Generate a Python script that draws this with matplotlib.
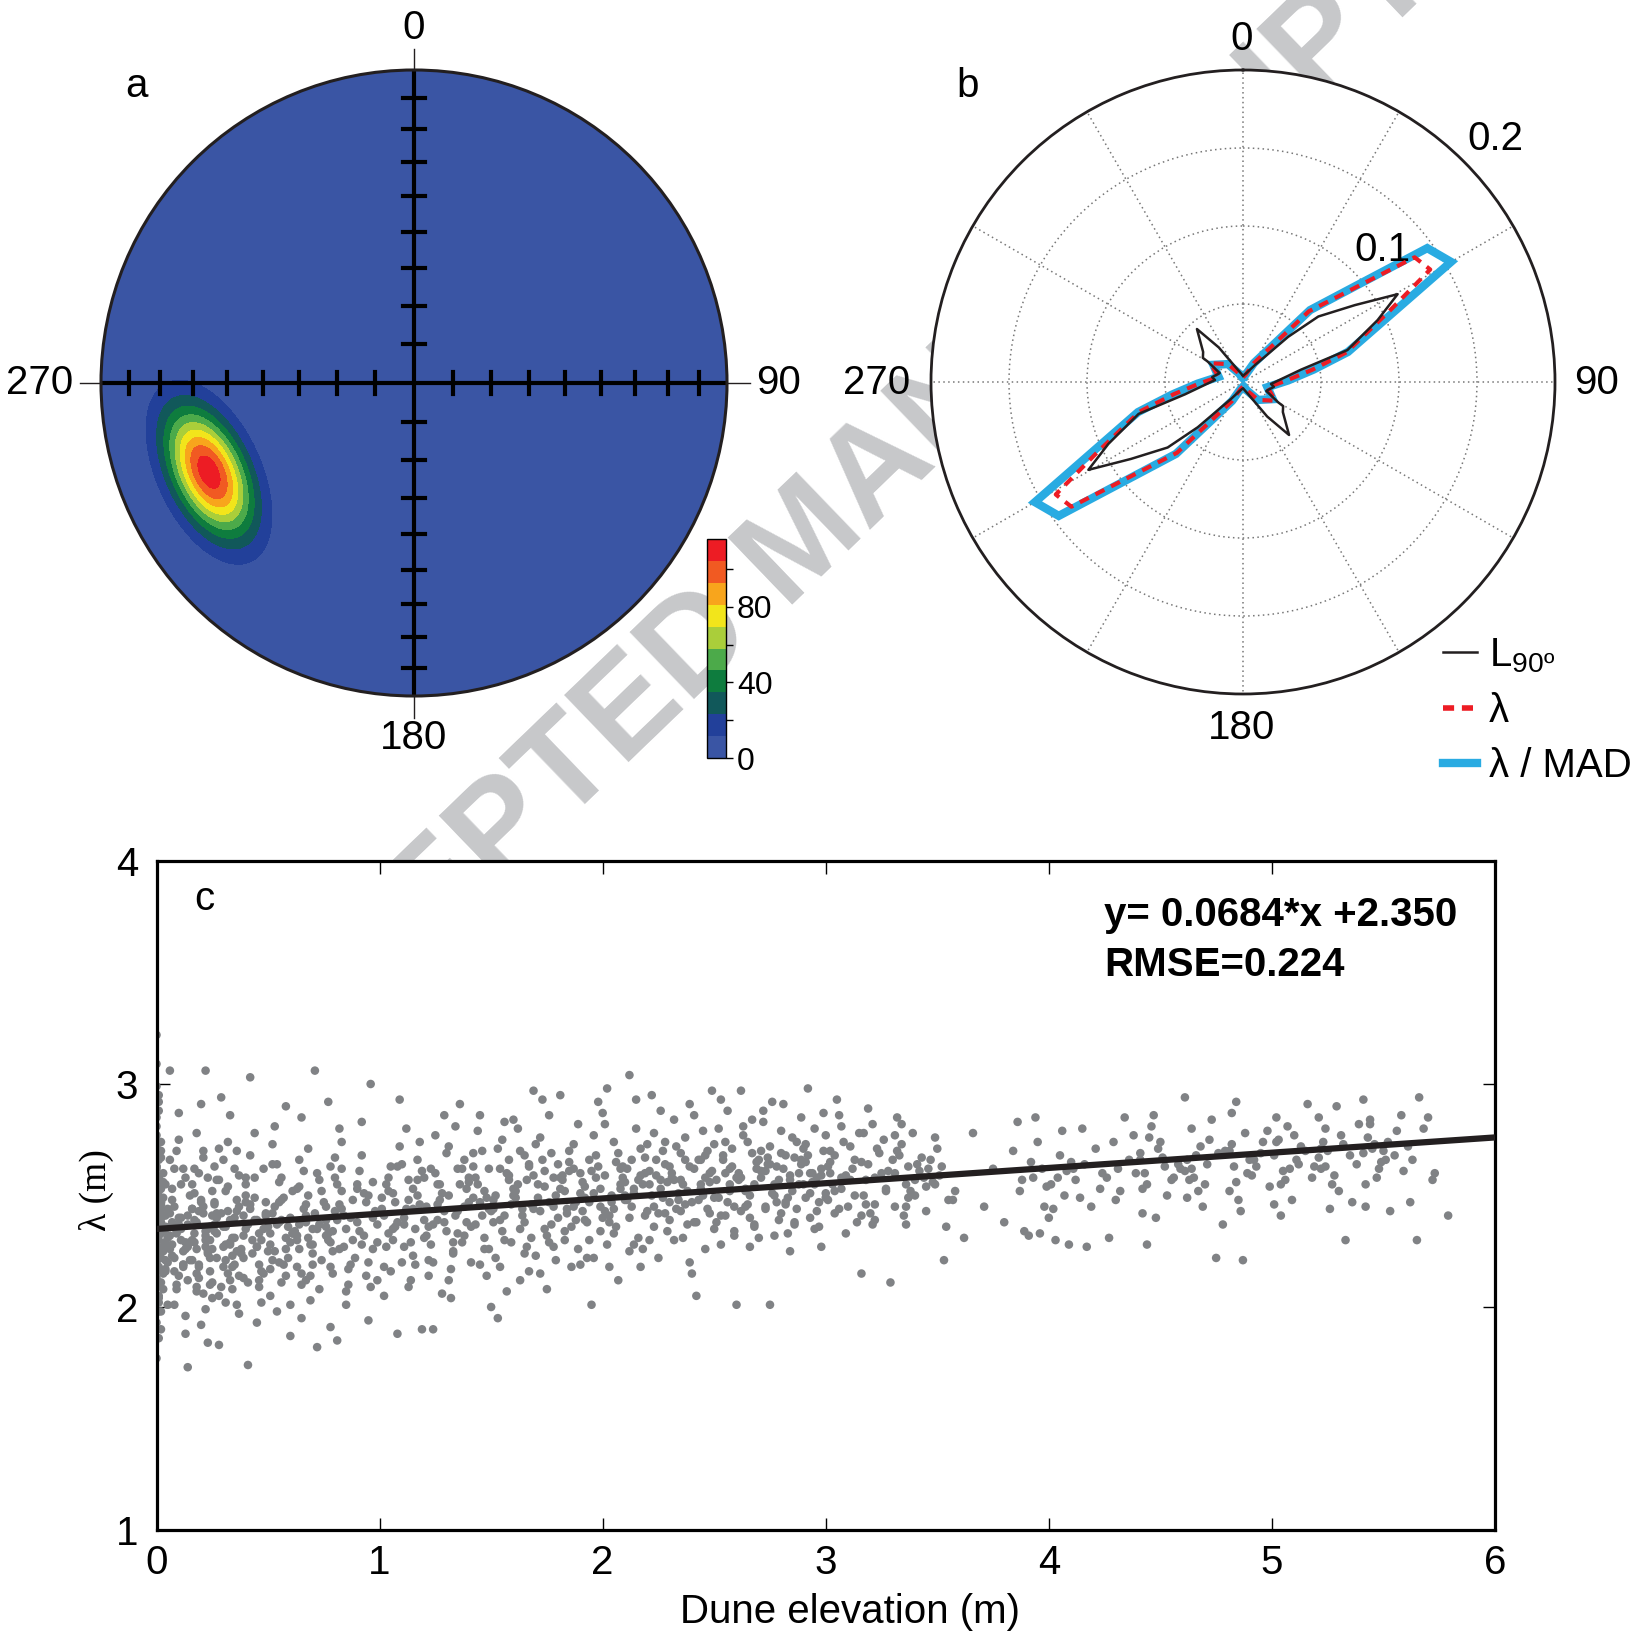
import numpy as np
import matplotlib.pyplot as plt
from matplotlib.patches import Circle
from matplotlib.lines import Line2D

plt.rcParams['font.family'] = ['Liberation Sans', 'DejaVu Sans']
plt.rcParams['mathtext.default'] = 'regular'

# ---------------- panel a: pole density on an equal-area net ----------------
blob_center = (-0.655, -0.285)   # projected position of the maximum
blob_sigma = (0.148, 0.078)      # spread along / across the long axis
blob_tilt = 25                   # long axis, degrees from vertical (top to the west)
blob_peak = 112
density_levels = [0, 11.6, 23.2, 34.8, 46.4, 58.0, 69.6, 81.2, 92.8, 104.4, 116]
density_colors = ['#3a55a4', '#22409a', '#11585a', '#0e7c3e', '#4caa4a',
                  '#aace3a', '#f2e51b', '#f8a51c', '#f15a22', '#ed1c24']
cbar_ticks = [0, 20, 40, 60, 80, 100]
cbar_labels = ['0', '', '40', '', '80', '']
net_dips = [10, 20, 30, 40, 50, 60, 70, 80]

# ---------------- panel b: directional curves (axial, 0-180 half) ----------------
l90_bearing = [0, 20, 35, 45, 49, 55.5, 60.4, 65.3, 73, 78, 94, 99, 111, 120, 121, 127, 139, 145, 150, 165]
l90_r = [0.004, 0.006, 0.013, 0.041, 0.064, 0.087, 0.114, 0.095, 0.070, 0.038,
         0.018, 0.020, 0.016, 0.026, 0.030, 0.032, 0.045, 0.027, 0.014, 0.006]
lam_bearing = [0, 20, 30, 43, 54, 59, 64, 74, 80, 88, 102, 120, 140, 155, 170]
lam_r = [0.003, 0.005, 0.014, 0.062, 0.136, 0.140, 0.105, 0.069, 0.045, 0.028, 0.016, 0.024, 0.015, 0.006, 0.003]
mad_bearing = [0, 20, 30, 43, 54, 60, 65, 74, 80, 88, 102, 120, 140, 155, 170]
mad_r = [0.003, 0.005, 0.014, 0.063, 0.146, 0.154, 0.107, 0.070, 0.046, 0.029, 0.016, 0.022, 0.015, 0.006, 0.003]

# ---------------- panel c: wavelength vs dune elevation ----------------
elev = [
    0.00, 0.01, 0.00, 0.02, 0.01, 0.00, 0.03, 0.01, 0.02, 0.00,
    0.01, 0.02, 0.00, 0.01, 0.03, 0.00, 0.02, 0.01, 0.04, 0.00,
    0.02, 0.00, 0.01, 0.03, 0.00, 0.02, 0.01, 0.04, 0.00, 0.03,
    0.00, 0.01, 0.02, 0.00, 0.04, 0.01, 0.03, 0.00, 0.02, 0.01,
    0.03, 0.00, 0.02, 0.01, 0.00, 0.04, 0.02, 0.00, 0.01, 0.03,
    0.01, 0.03, 0.00, 0.02, 0.01, 0.00, 0.04, 0.02, 0.00, 0.01,
    0.00, 0.02, 0.01, 0.04, 0.00, 0.03, 0.01, 0.02, 0.00, 0.04,
    0.05, 0.07, 0.09, 0.11, 0.06, 0.13, 0.08, 0.14, 0.10, 0.12,
    0.06, 0.10, 0.13, 0.08, 0.15, 0.05, 0.12, 0.09, 0.14, 0.07,
    0.08, 0.05, 0.11, 0.14, 0.07, 0.10, 0.06, 0.13, 0.09, 0.12,
    0.12, 0.09, 0.06, 0.10, 0.13, 0.07, 0.15, 0.08, 0.11, 0.05,
    0.16, 0.18, 0.21, 0.23, 0.17, 0.20, 0.24, 0.19, 0.22, 0.25,
    0.19, 0.16, 0.22, 0.18, 0.25, 0.21, 0.17, 0.24, 0.20, 0.23,
    0.21, 0.24, 0.17, 0.20, 0.16, 0.23, 0.19, 0.22, 0.18, 0.25,
    0.23, 0.20, 0.25, 0.17, 0.22, 0.18, 0.21, 0.16, 0.24, 0.19,
    0.26, 0.29, 0.31, 0.34, 0.27, 0.36, 0.30, 0.33, 0.28, 0.37,
    0.30, 0.27, 0.35, 0.32, 0.38, 0.26, 0.33, 0.29, 0.36, 0.31,
    0.33, 0.36, 0.28, 0.31, 0.26, 0.35, 0.29, 0.37, 0.32, 0.34,
    0.35, 0.32, 0.27, 0.37, 0.30, 0.28, 0.34, 0.26, 0.38, 0.33,
    0.39, 0.41, 0.44, 0.47, 0.40, 0.43, 0.49, 0.42, 0.46, 0.48,
    0.42, 0.45, 0.39, 0.48, 0.41, 0.47, 0.44, 0.50, 0.40, 0.46,
    0.46, 0.40, 0.43, 0.49, 0.45, 0.39, 0.48, 0.42, 0.50, 0.44,
    0.51, 0.53, 0.56, 0.59, 0.52, 0.55, 0.61, 0.54, 0.58, 0.60,
    0.54, 0.57, 0.52, 0.60, 0.55, 0.51, 0.58, 0.62, 0.53, 0.56,
    0.58, 0.52, 0.61, 0.55, 0.59, 0.53, 0.56, 0.51, 0.60, 0.57,
    0.63, 0.65, 0.68, 0.71, 0.64, 0.67, 0.73, 0.66, 0.70, 0.74,
    0.66, 0.69, 0.64, 0.72, 0.67, 0.63, 0.70, 0.75, 0.65, 0.68,
    0.70, 0.64, 0.73, 0.67, 0.71, 0.65, 0.68, 0.63, 0.72, 0.69,
    0.76, 0.78, 0.81, 0.84, 0.77, 0.80, 0.86, 0.79, 0.83, 0.88,
    0.79, 0.82, 0.77, 0.85, 0.80, 0.76, 0.83, 0.89, 0.78, 0.87,
    0.83, 0.77, 0.86, 0.80, 0.84, 0.78, 0.81, 0.76, 0.85, 0.82,
    0.91, 0.93, 0.95, 0.98, 0.92, 0.96, 0.99, 0.94, 0.97, 0.90,
    0.94, 0.97, 0.92, 0.99, 0.95, 0.91, 0.98, 0.93, 0.96, 0.90,
    1.01, 1.03, 1.05, 1.08, 1.02, 1.06, 1.09, 1.04, 1.07, 1.10,
    1.04, 1.07, 1.02, 1.09, 1.05, 1.01, 1.08, 1.03, 1.06, 1.10,
    1.11, 1.13, 1.15, 1.18, 1.12, 1.16, 1.19, 1.14, 1.17, 1.20,
    1.14, 1.17, 1.12, 1.19, 1.15, 1.11, 1.18, 1.13, 1.16, 1.20,
    1.21, 1.23, 1.25, 1.28, 1.22, 1.26, 1.29, 1.24, 1.27, 1.30,
    1.24, 1.27, 1.22, 1.29, 1.25, 1.21, 1.28, 1.23, 1.26, 1.30,
    1.31, 1.33, 1.35, 1.38, 1.32, 1.36, 1.39, 1.34, 1.37, 1.40,
    1.34, 1.37, 1.32, 1.39, 1.35, 1.31, 1.38, 1.33, 1.36, 1.40,
    1.41, 1.43, 1.45, 1.48, 1.42, 1.46, 1.49, 1.44, 1.47, 1.50,
    1.44, 1.47, 1.42, 1.49, 1.45, 1.41, 1.48, 1.43, 1.46, 1.50,
    1.51, 1.53, 1.55, 1.58, 1.52, 1.56, 1.59, 1.54, 1.57, 1.60,
    1.54, 1.57, 1.52, 1.59, 1.55, 1.51, 1.58, 1.53, 1.56, 1.60,
    1.61, 1.63, 1.65, 1.68, 1.62, 1.66, 1.69, 1.64, 1.67, 1.70,
    1.64, 1.67, 1.62, 1.69, 1.65, 1.61, 1.68, 1.63, 1.66, 1.70,
    1.71, 1.73, 1.75, 1.78, 1.72, 1.76, 1.79, 1.74, 1.77, 1.80,
    1.74, 1.77, 1.72, 1.79, 1.75, 1.71, 1.78, 1.73, 1.76, 1.80,
    1.81, 1.83, 1.85, 1.88, 1.82, 1.86, 1.89, 1.84, 1.87, 1.90,
    1.84, 1.87, 1.82, 1.89, 1.85, 1.81, 1.88, 1.83, 1.86, 1.90,
    1.91, 1.93, 1.95, 1.98, 1.92, 1.96, 1.99, 1.94, 1.97, 2.00,
    1.94, 1.97, 1.92, 1.99, 1.95, 1.91, 1.98, 1.93, 1.96, 2.00,
    2.01, 2.03, 2.05, 2.08, 2.02, 2.06, 2.09, 2.04, 2.07, 2.10,
    2.04, 2.07, 2.02, 2.09, 2.05, 2.01, 2.08, 2.03, 2.06, 2.10,
    2.11, 2.13, 2.15, 2.18, 2.12, 2.16, 2.19, 2.14, 2.17, 2.20,
    2.14, 2.17, 2.12, 2.19, 2.15, 2.11, 2.18, 2.13, 2.16, 2.20,
    2.21, 2.23, 2.25, 2.28, 2.22, 2.26, 2.29, 2.24, 2.27, 2.30,
    2.24, 2.27, 2.22, 2.29, 2.25, 2.21, 2.28, 2.23, 2.26, 2.30,
    2.31, 2.33, 2.35, 2.38, 2.32, 2.36, 2.39, 2.34, 2.37, 2.40,
    2.34, 2.37, 2.32, 2.39, 2.35, 2.31, 2.38, 2.33, 2.36, 2.40,
    2.41, 2.43, 2.45, 2.48, 2.42, 2.46, 2.49, 2.44, 2.47, 2.50,
    2.44, 2.47, 2.42, 2.49, 2.45, 2.41, 2.48, 2.43, 2.46, 2.50,
    2.51, 2.53, 2.55, 2.58, 2.52, 2.56, 2.59, 2.54, 2.57, 2.60,
    2.54, 2.57, 2.52, 2.59, 2.55, 2.51, 2.58, 2.53, 2.56, 2.60,
    2.61, 2.63, 2.65, 2.68, 2.62, 2.66, 2.69, 2.64, 2.67, 2.70,
    2.64, 2.67, 2.62, 2.69, 2.65, 2.61, 2.68, 2.63, 2.66, 2.70,
    2.71, 2.73, 2.75, 2.78, 2.72, 2.76, 2.79, 2.74, 2.77, 2.80,
    2.74, 2.77, 2.72, 2.79, 2.75, 2.71, 2.78, 2.73, 2.76, 2.80,
    2.81, 2.83, 2.85, 2.88, 2.82, 2.86, 2.89, 2.84, 2.87, 2.90,
    2.84, 2.87, 2.82, 2.89, 2.85, 2.81, 2.88, 2.83, 2.86, 2.90,
    2.91, 2.93, 2.95, 2.98, 2.92, 2.96, 2.99, 2.94, 2.97, 3.00,
    2.94, 2.97, 2.92, 2.99, 2.95, 2.91, 2.98, 2.93, 2.96, 3.00,
    3.01, 3.04, 3.07, 3.11, 3.02, 3.06, 3.13, 3.05, 3.09, 3.14,
    3.03, 3.08, 3.01, 3.12, 3.06, 3.02, 3.10, 3.04, 3.07, 3.15,
    3.16, 3.19, 3.22, 3.26, 3.17, 3.21, 3.28, 3.20, 3.24, 3.29,
    3.18, 3.23, 3.16, 3.27, 3.21, 3.17, 3.25, 3.19, 3.22, 3.30,
    3.31, 3.34, 3.37, 3.41, 3.32, 3.36, 3.43, 3.35, 3.39, 3.44,
    3.33, 3.38, 3.31, 3.42, 3.36, 3.32, 3.40, 3.34, 3.37, 3.45,
    3.46, 3.48, 3.50, 3.53, 3.47, 3.51, 3.55, 3.49, 3.52, 3.58,
    3.62, 3.66, 3.71, 3.75, 3.80, 3.84, 3.87, 3.89, 3.86, 3.88,
    3.91, 3.93, 3.95, 3.98, 3.92, 3.96, 3.99, 3.94, 3.97, 4.00,
    4.01, 4.03, 4.05, 4.08, 4.02, 4.06, 4.09, 4.04, 4.07, 4.10,
    4.11, 4.14, 4.17, 4.21, 4.12, 4.16, 4.23, 4.15, 4.19, 4.24,
    4.26, 4.29, 4.32, 4.36, 4.27, 4.31, 4.38, 4.30, 4.34, 4.39,
    4.41, 4.44, 4.47, 4.52, 4.42, 4.49, 4.56, 4.45, 4.53, 4.58,
    4.43, 4.48, 4.41, 4.55, 4.46, 4.42, 4.51, 4.44, 4.50, 4.59,
    4.61, 4.64, 4.67, 4.72, 4.62, 4.69, 4.76, 4.65, 4.73, 4.78,
    4.63, 4.68, 4.61, 4.75, 4.66, 4.62, 4.71, 4.64, 4.70, 4.79,
    4.81, 4.84, 4.87, 4.92, 4.82, 4.89, 4.96, 4.85, 4.93, 4.98,
    4.83, 4.88, 4.81, 4.95, 4.86, 4.82, 4.91, 4.84, 4.90, 4.99,
    5.01, 5.04, 5.07, 5.12, 5.02, 5.09, 5.16, 5.05, 5.13, 5.18,
    5.03, 5.08, 5.01, 5.15, 5.06, 5.02, 5.11, 5.04, 5.10, 5.19,
    5.21, 5.24, 5.27, 5.32, 5.22, 5.29, 5.36, 5.25, 5.33, 5.38,
    5.23, 5.28, 5.21, 5.35, 5.26, 5.22, 5.31, 5.24, 5.30, 5.39,
    5.41, 5.44, 5.47, 5.52, 5.42, 5.49, 5.56, 5.45, 5.53, 5.58,
    5.43, 5.48, 5.41, 5.55, 5.46, 5.42, 5.51, 5.44, 5.50, 5.59,
    5.61, 5.63, 5.65, 5.68, 5.72, 5.66, 5.73, 5.62, 5.70, 5.79,
    0.02, 0.06, 0.11, 0.15, 0.19, 0.24, 0.28, 0.33, 0.37, 0.42,
    0.04, 0.08, 0.13, 0.17, 0.22, 0.26, 0.31, 0.35, 0.40, 0.45,
    0.01, 0.05, 0.10, 0.14, 0.18, 0.23, 0.27, 0.32, 0.36, 0.41,
    0.03, 0.07, 0.12, 0.16, 0.21, 0.25, 0.30, 0.34, 0.39, 0.44,
    0.47, 0.52, 0.56, 0.61, 0.65, 0.70, 0.74, 0.79, 0.83, 0.88,
    0.49, 0.54, 0.58, 0.63, 0.67, 0.72, 0.76, 0.81, 0.85, 0.90,
    0.46, 0.51, 0.55, 0.60, 0.64, 0.69, 0.73, 0.78, 0.82, 0.87,
    0.92, 0.97, 1.02, 1.06, 1.11, 1.15, 1.20, 1.24, 1.29, 1.33,
    0.95, 0.99, 1.04, 1.08, 1.13, 1.17, 1.22, 1.26, 1.31, 1.35,
    1.38, 1.42, 1.47, 1.51, 1.56, 1.60, 1.65, 1.69, 1.74, 1.78,
    1.40, 1.45, 1.49, 1.54, 1.58, 1.63, 1.67, 1.72, 1.76, 1.81,
    1.83, 1.87, 1.92, 1.96, 2.01, 2.05, 2.10, 2.14, 2.19, 2.23,
    1.85, 1.90, 1.94, 1.99, 2.03, 2.08, 2.12, 2.17, 2.21, 2.26,
    2.28, 2.32, 2.37, 2.41, 2.46, 2.50, 2.55, 2.59, 2.64, 2.68,
    2.30, 2.35, 2.39, 2.44, 2.48, 2.53, 2.57, 2.62, 2.66, 2.71,
    2.73, 2.77, 2.82, 2.86, 2.91, 2.95, 3.00, 3.04, 3.09, 3.13,
    2.75, 2.80, 2.84, 2.89, 2.93, 2.98, 3.02, 3.07, 3.11, 3.16,
    3.18, 3.22, 3.27, 3.31, 3.36, 3.40, 3.45, 3.49, 3.54, 3.57,
    0.00, 0.01, 0.02, 0.00, 0.03, 0.01, 0.00, 0.02, 0.04, 0.01,
    0.06, 0.09, 0.14, 0.18, 0.22, 0.27, 0.31, 0.36, 0.40, 0.45,
]
lam = [
    2.31, 2.05, 2.62, 2.22, 2.88, 1.93, 2.41, 2.17, 2.53, 3.22,
    2.26, 2.70, 2.12, 2.45, 2.34, 3.09, 1.98, 2.58, 2.29, 2.19,
    2.38, 2.77, 1.86, 2.49, 2.24, 2.11, 2.95, 2.36, 2.63, 2.27,
    2.20, 2.52, 2.33, 1.77, 2.41, 2.66, 2.08, 2.85, 2.44, 2.30,
    2.15, 2.35, 2.74, 2.02, 2.56, 2.28, 2.47, 2.99, 2.39, 2.60,
    2.43, 2.25, 2.13, 2.67, 2.32, 2.81, 2.21, 1.90, 2.50, 2.37,
    2.29, 2.40, 2.58, 2.16, 2.72, 2.34, 2.04, 2.46, 2.24, 2.55,
    2.27, 2.48, 2.10, 2.35, 2.66, 1.96, 2.22, 2.41, 2.87, 2.18,
    2.32, 2.14, 2.58, 2.01, 2.29, 2.44, 2.25, 2.70, 1.73, 2.38,
    2.45, 2.20, 2.30, 2.12, 2.53, 2.37, 3.06, 2.26, 2.08, 2.62,
    2.19, 2.34, 2.42, 2.75, 1.88, 2.28, 2.50, 2.16, 2.40, 2.31,
    2.30, 2.07, 2.45, 2.24, 2.62, 1.92, 2.36, 2.19, 3.06, 2.41,
    2.13, 2.55, 2.27, 2.38, 2.04, 2.70, 2.33, 2.22, 2.48, 1.84,
    2.42, 2.16, 2.29, 2.91, 2.21, 2.35, 2.60, 1.99, 2.26, 2.52,
    2.25, 2.47, 2.11, 2.39, 2.32, 2.78, 2.06, 2.44, 2.30, 2.18,
    2.34, 2.09, 2.52, 2.23, 2.40, 2.01, 2.66, 2.29, 1.83, 2.45,
    2.18, 2.57, 2.31, 2.74, 2.26, 2.37, 2.12, 2.94, 2.43, 2.21,
    2.28, 2.48, 2.05, 2.36, 2.63, 2.19, 2.42, 1.97, 2.54, 2.31,
    2.40, 2.15, 2.33, 2.59, 2.27, 2.71, 2.08, 2.46, 2.24, 2.86,
    2.22, 1.74, 2.39, 2.16, 2.55, 2.30, 2.47, 3.03, 2.09, 2.35,
    2.44, 2.27, 2.13, 2.62, 2.37, 2.02, 2.78, 2.25, 2.50, 2.19,
    2.33, 2.58, 2.24, 2.41, 1.93, 2.32, 2.15, 2.68, 2.36, 2.49,
    2.28, 2.45, 2.11, 2.36, 2.64, 2.20, 2.52, 1.98, 2.31, 2.40,
    2.37, 2.19, 2.73, 2.29, 2.47, 2.05, 2.90, 2.34, 2.25, 2.58,
    2.14, 2.42, 2.33, 2.56, 2.22, 2.81, 2.39, 2.17, 1.87, 2.49,
    2.32, 2.15, 2.50, 3.06, 2.26, 2.41, 2.08, 2.61, 2.35, 2.21,
    2.44, 2.28, 2.66, 1.82, 2.38, 2.53, 2.19, 2.47, 2.85, 2.31,
    2.24, 2.37, 2.57, 2.12, 2.42, 1.95, 2.71, 2.30, 2.35, 2.03,
    2.39, 2.18, 2.55, 2.27, 2.92, 2.43, 2.10, 2.34, 2.62, 2.48,
    2.25, 2.46, 2.33, 2.01, 2.58, 2.36, 2.74, 2.22, 1.91, 2.40,
    2.52, 2.30, 2.17, 2.67, 2.41, 2.29, 1.85, 2.45, 2.35, 2.80,
    2.34, 2.51, 2.20, 2.42, 2.68, 3.00, 2.29, 2.14, 2.56, 2.38,
    2.47, 2.26, 2.83, 2.37, 1.94, 2.61, 2.43, 2.32, 2.09, 2.53,
    2.44, 2.27, 2.63, 2.38, 2.05, 2.51, 2.93, 2.33, 2.47, 2.20,
    2.58, 2.36, 2.41, 2.72, 2.16, 2.49, 1.88, 2.55, 2.30, 2.64,
    2.40, 2.57, 2.23, 2.46, 2.80, 2.35, 2.61, 2.12, 2.50, 2.39,
    2.29, 2.66, 2.44, 1.90, 2.53, 2.37, 2.74, 2.48, 2.19, 2.58,
    2.45, 2.28, 2.60, 2.51, 2.14, 2.39, 2.86, 1.90, 2.48, 2.69,
    2.37, 2.55, 2.21, 2.43, 2.77, 2.32, 2.06, 2.62, 2.46, 2.34,
    2.50, 2.25, 2.43, 2.66, 2.04, 2.55, 2.38, 2.81, 2.29, 2.47,
    2.41, 2.62, 2.17, 2.53, 2.33, 2.72, 2.45, 2.24, 2.91, 2.58,
    2.36, 2.58, 2.47, 2.14, 2.69, 2.41, 2.26, 2.79, 2.52, 2.00,
    2.55, 2.31, 2.63, 2.44, 2.86, 2.20, 2.49, 2.37, 2.70, 2.43,
    2.48, 2.71, 2.34, 2.57, 2.22, 2.83, 2.46, 2.62, 2.07, 2.53,
    2.39, 2.60, 2.50, 2.29, 2.75, 2.44, 2.66, 1.95, 2.41, 2.84,
    2.52, 2.35, 2.68, 2.46, 2.80, 2.27, 2.59, 2.41, 2.16, 2.73,
    2.44, 2.63, 2.55, 2.97, 2.38, 2.49, 2.31, 2.70, 2.57, 2.23,
    2.49, 2.66, 2.32, 2.58, 2.43, 2.86, 2.21, 2.54, 2.69, 2.40,
    2.61, 2.37, 2.76, 2.50, 2.08, 2.55, 2.45, 2.93, 2.29, 2.64,
    2.53, 2.34, 2.70, 2.47, 2.59, 2.18, 2.82, 2.42, 2.62, 2.51,
    2.44, 2.73, 2.57, 2.26, 2.65, 2.95, 2.39, 2.52, 2.36, 2.60,
    2.56, 2.38, 2.01, 2.63, 2.49, 2.77, 2.45, 2.30, 2.58, 2.87,
    2.47, 2.68, 2.54, 2.34, 2.61, 2.43, 2.92, 2.22, 2.51, 2.40,
    2.59, 2.41, 2.74, 2.53, 2.98, 2.36, 2.63, 2.47, 2.12, 2.56,
    2.50, 2.69, 2.28, 2.58, 2.44, 2.82, 2.55, 2.38, 2.65, 2.48,
    2.62, 2.45, 2.80, 2.55, 3.04, 2.31, 2.67, 2.51, 2.18, 2.73,
    2.53, 2.71, 2.40, 2.60, 2.93, 2.48, 2.26, 2.66, 2.57, 2.43,
    2.55, 2.78, 2.42, 2.64, 2.50, 2.88, 2.34, 2.59, 2.70, 2.47,
    2.66, 2.49, 2.95, 2.56, 2.22, 2.61, 2.74, 2.45, 2.53, 2.39,
    2.58, 2.44, 2.69, 2.52, 2.84, 2.31, 2.63, 2.48, 2.76, 2.15,
    2.51, 2.66, 2.57, 2.91, 2.43, 2.60, 2.37, 2.72, 2.55, 2.47,
    2.62, 2.48, 2.79, 2.56, 2.38, 2.68, 2.97, 2.53, 2.44, 2.73,
    2.55, 2.70, 2.05, 2.61, 2.50, 2.86, 2.42, 2.66, 2.58, 2.35,
    2.57, 2.41, 2.74, 2.63, 2.49, 2.88, 2.34, 2.68, 2.55, 2.01,
    2.66, 2.52, 2.80, 2.45, 2.60, 2.38, 2.71, 2.93, 2.47, 2.58,
    2.60, 2.77, 2.46, 2.55, 2.97, 2.40, 2.65, 2.52, 2.84, 2.31,
    2.53, 2.69, 2.43, 2.62, 2.74, 2.57, 2.36, 2.81, 2.50, 2.66,
    2.58, 2.45, 2.72, 2.63, 2.88, 2.51, 2.39, 2.67, 2.55, 2.79,
    2.64, 2.50, 2.83, 2.57, 2.01, 2.70, 2.47, 2.61, 2.92, 2.42,
    2.62, 2.49, 2.76, 2.55, 2.68, 2.37, 2.85, 2.59, 2.44, 2.71,
    2.57, 2.74, 2.46, 2.64, 2.52, 2.91, 2.60, 2.33, 2.67, 2.55,
    2.65, 2.51, 2.80, 2.59, 2.98, 2.43, 2.70, 2.56, 2.36, 2.77,
    2.60, 2.47, 2.68, 2.87, 2.55, 2.73, 2.62, 2.40, 2.58, 2.49,
    2.63, 2.52, 2.81, 2.57, 2.70, 2.44, 2.66, 2.93, 2.59, 2.38,
    2.55, 2.74, 2.48, 2.62, 2.86, 2.60, 2.45, 2.68, 2.53, 2.78,
    2.15, 2.64, 2.58, 2.75, 2.50, 2.82, 2.61, 2.42, 2.69, 2.11,
    2.57, 2.71, 2.65, 2.53, 2.37, 2.78, 2.60, 2.89, 2.46, 2.66,
    2.60, 2.73, 2.49, 2.64, 2.85, 2.55, 2.67, 2.41, 2.78, 2.58,
    2.68, 2.52, 2.77, 2.61, 2.45, 2.70, 2.57, 2.82, 2.63, 2.54,
    2.62, 2.56, 2.71, 2.21, 2.66, 2.59, 2.48, 2.76, 2.63, 2.52,
    2.31, 2.78, 2.45, 2.62, 2.38, 2.70, 2.52, 2.34, 2.83, 2.57,
    2.32, 2.58, 2.74, 2.45, 2.65, 2.33, 2.54, 2.85, 2.62, 2.40,
    2.55, 2.30, 2.68, 2.61, 2.44, 2.79, 2.28, 2.58, 2.50, 2.65,
    2.62, 2.49, 2.27, 2.71, 2.57, 2.64, 2.53, 2.80, 2.45, 2.60,
    2.58, 2.74, 2.52, 2.66, 2.31, 2.62, 2.77, 2.48, 2.85, 2.60,
    2.66, 2.55, 2.86, 2.63, 2.42, 2.71, 2.58, 2.76, 2.50, 2.64,
    2.60, 2.40, 2.69, 2.57, 2.81, 2.53, 2.67, 2.28, 2.74, 2.62,
    2.94, 2.62, 2.52, 2.75, 2.66, 2.45, 2.69, 2.58, 2.84, 2.37,
    2.57, 2.72, 2.61, 2.22, 2.68, 2.49, 2.64, 2.80, 2.55, 2.70,
    2.70, 2.56, 2.21, 2.66, 2.87, 2.60, 2.74, 2.48, 2.63, 2.79,
    2.63, 2.78, 2.52, 2.69, 2.43, 2.73, 2.59, 2.92, 2.66, 2.54,
    2.68, 2.55, 2.81, 2.64, 2.74, 2.48, 2.91, 2.61, 2.72, 2.58,
    2.75, 2.62, 2.46, 2.70, 2.57, 2.85, 2.66, 2.41, 2.77, 2.63,
    2.67, 2.80, 2.55, 2.73, 2.62, 2.90, 2.47, 2.70, 2.30, 2.64,
    2.74, 2.59, 2.85, 2.68, 2.44, 2.71, 2.77, 2.63, 2.52, 2.82,
    2.69, 2.82, 2.58, 2.74, 2.45, 2.65, 2.79, 2.71, 2.43, 2.86,
    2.76, 2.62, 2.93, 2.68, 2.73, 2.55, 2.66, 2.84, 2.70, 2.61,
    2.72, 2.66, 2.30, 2.80, 2.57, 2.94, 2.60, 2.47, 2.85, 2.41,
    2.48, 2.36, 2.55, 2.21, 2.43, 2.10, 2.57, 2.39, 2.14, 2.46,
    2.17, 2.62, 2.29, 2.51, 2.34, 2.47, 2.02, 2.62, 2.35, 2.27,
    2.36, 2.01, 2.40, 2.27, 2.15, 2.58, 2.22, 2.43, 2.70, 2.11,
    2.56, 2.23, 2.19, 2.44, 2.67, 2.26, 2.36, 2.18, 2.41, 2.58,
    2.30, 2.21, 2.48, 2.33, 2.10, 2.28, 2.52, 2.15, 2.44, 2.30,
    2.42, 2.64, 2.26, 2.18, 2.46, 2.60, 2.32, 2.39, 2.07, 2.55,
    2.12, 2.33, 2.38, 2.01, 2.54, 2.14, 2.37, 2.63, 2.26, 2.19,
    2.28, 2.40, 2.18, 2.35, 2.27, 2.44, 2.31, 2.20, 2.38, 2.29,
    2.50, 2.12, 2.52, 2.63, 2.09, 2.57, 2.36, 2.55, 2.12, 2.62,
    2.32, 2.49, 2.26, 2.38, 2.30, 2.50, 2.24, 2.44, 2.35, 2.27,
    2.56, 2.19, 2.62, 2.18, 2.59, 2.12, 2.64, 2.15, 2.47, 2.58,
    2.30, 2.45, 2.39, 2.22, 2.43, 2.33, 2.50, 2.28, 2.41, 2.36,
    2.61, 2.19, 2.66, 2.53, 2.18, 2.62, 2.25, 2.59, 2.30, 2.57,
    2.42, 2.30, 2.46, 2.38, 2.26, 2.49, 2.41, 2.32, 2.45, 2.37,
    2.63, 2.57, 2.20, 2.66, 2.60, 2.28, 2.62, 2.58, 2.27, 2.61,
    2.44, 2.32, 2.47, 2.38, 2.49, 2.35, 2.51, 2.42, 2.33, 2.50,
    2.64, 2.69, 2.25, 2.66, 2.60, 2.27, 2.65, 2.58, 2.72, 2.41,
    2.46, 2.39, 2.52, 2.45, 2.37, 2.50, 2.43, 2.55, 2.36, 2.48,
    2.33, 2.18, 2.42, 2.63, 2.26, 2.92, 2.09, 2.47, 2.35, 1.98,
    2.26, 2.33, 2.37, 2.09, 2.30, 2.42, 2.28, 2.25, 2.47, 2.39,
]
fit_slope = 0.0684
fit_intercept = 2.350
fit_rmse = 0.224

BLACK = '#231f20'
WM = '#c7c8ca'

fig = plt.figure(figsize=(16.32, 16.36), dpi=100)

# watermark behind everything
fig.text(0.4936, 0.6675, 'ACCEPTED MANUSCRIPT', rotation=43.9, rotation_mode='anchor',
         ha='center', va='center', fontsize=98, fontweight='bold', color=WM, zorder=-1)

# ================= panel a =================
axa = fig.add_axes([101 / 1632, 1 - 696 / 1636, 626 / 1632, 626 / 1636])
axa.set_xlim(-1, 1)
axa.set_ylim(-1, 1)
axa.set_aspect('equal')
axa.axis('off')

g = np.linspace(-1, 1, 401)
gx, gy = np.meshgrid(g, g)
t = np.radians(blob_tilt)
ux, uy = -np.sin(t), np.cos(t)
ddx, ddy = gx - blob_center[0], gy - blob_center[1]
u = ddx * ux + ddy * uy
v = -ddx * uy + ddy * ux
dens = blob_peak * np.exp(-0.5 * ((u / blob_sigma[0]) ** 2 + (v / blob_sigma[1]) ** 2))
cs = axa.contourf(gx, gy, dens, levels=density_levels, colors=density_colors)
clip = Circle((0, 0), 1, transform=axa.transData)
cs.set_clip_path(clip)
axa.add_patch(Circle((0, 0), 1, fill=False, lw=2.2, ec=BLACK, zorder=5, clip_on=False))

# cross with equal-area dip ticks
axa.plot([-1, 1], [0, 0], color='black', lw=3, zorder=4)
axa.plot([0, 0], [-1, 1], color='black', lw=3, zorder=4)
tk = 0.036
for d in net_dips:
    rr = np.sqrt(2) * np.sin(np.radians(d) / 2)
    for s in (-1, 1):
        axa.plot([s * rr, s * rr], [-tk, tk], color='black', lw=3, zorder=4)
        axa.plot([-tk, tk], [s * rr, s * rr], color='black', lw=3, zorder=4)
# outer label leaders
axa.plot([0, 0], [1, 1.067], color=BLACK, lw=1, clip_on=False)
axa.plot([0, 0], [-1, -1.07], color=BLACK, lw=1, clip_on=False)
axa.plot([-1, -1.067], [0, 0], color=BLACK, lw=1, clip_on=False)
axa.plot([1, 1.074], [0, 0], color=BLACK, lw=1, clip_on=False)
lab_fs = 29
axa.text(0, 1.135, '0', ha='center', va='center', fontsize=lab_fs)
axa.text(0, -1.134, '180', ha='center', va='center', fontsize=lab_fs)
axa.text(-1.09, 0, '270', ha='right', va='center', fontsize=lab_fs)
axa.text(1.093, 0, '90', ha='left', va='center', fontsize=lab_fs)
axa.text(-0.888, 0.949, 'a', ha='center', va='center', fontsize=lab_fs)

cax = fig.add_axes([707 / 1632, 1 - 758 / 1636, 19 / 1632, 219 / 1636])
cb = fig.colorbar(cs, cax=cax)
cb.set_ticks(cbar_ticks)
cb.set_ticklabels(cbar_labels)
cb.outline.set_linewidth(1)
cax.tick_params(direction='out', length=5, width=1, labelsize=23, pad=3)

# ================= panel b =================
axb = fig.add_axes([931 / 1632, 1 - 694 / 1636, 624 / 1632, 624 / 1636], projection='polar')
axb.set_theta_zero_location('N')
axb.set_theta_direction(-1)
axb.set_ylim(0, 0.2)
axb.set_xticks(np.radians(np.arange(0, 360, 30)))
axb.set_yticks([0.05, 0.1, 0.15])
axb.set_xticklabels([])
axb.set_yticklabels([])
axb.grid(True, color='#777777', lw=1.1, ls=(0, (1, 2.2)))
axb.spines['polar'].set_linewidth(2)
axb.spines['polar'].set_color(BLACK)
axb.tick_params(length=0)


def axial(bearing, r):
    b = list(bearing) + [x + 180 for x in bearing] + [bearing[0] + 360]
    rr = list(r) + list(r) + [r[0]]
    return np.radians(b), rr


th, rr = axial(mad_bearing, mad_r)
axb.plot(th, rr, color='#29abe2', lw=6, solid_joinstyle='miter', zorder=3)
th, rr = axial(lam_bearing, lam_r)
axb.plot(th, rr, color='#ed1c24', lw=3, ls=(0, (2.4, 1.8)), zorder=4)
th, rr = axial(l90_bearing, l90_r)
axb.plot(th, rr, color=BLACK, lw=1.8, zorder=5)

tb = axb.transAxes
axb.text(0.498, 1.049, '0', transform=tb, ha='center', va='center', fontsize=lab_fs)
axb.text(1.067, 0.498, '90', transform=tb, ha='center', va='center', fontsize=lab_fs)
axb.text(0.498, -0.054, '180', transform=tb, ha='center', va='center', fontsize=lab_fs)
axb.text(-0.087, 0.498, '270', transform=tb, ha='center', va='center', fontsize=lab_fs)
axb.text(0.724, 0.712, '0.1', transform=tb, ha='center', va='center', fontsize=lab_fs)
axb.text(0.904, 0.889, '0.2', transform=tb, ha='center', va='center', fontsize=lab_fs)
axb.text(0.058, 0.974, 'b', transform=tb, ha='center', va='center', fontsize=lab_fs)

fig.legend([Line2D([], [], color=BLACK, lw=1.8),
            Line2D([], [], color='#ed1c24', lw=4, ls=(0, (2, 1.4))),
            Line2D([], [], color='#29abe2', lw=6)],
           ['L$_{90º}$', 'λ', 'λ / MAD'],
           loc='upper left', bbox_to_anchor=(0.884, 0.611), frameon=False, fontsize=29,
           handlelength=0.85, handletextpad=0.3, labelspacing=0.42, borderpad=0, borderaxespad=0)

# ================= panel c =================
axc = fig.add_axes([156.5 / 1632, 1 - 1530 / 1636, 1338.5 / 1632, 669 / 1636])
axc.set_facecolor('white')
axc.scatter(elev, lam, s=38, color='#808285', edgecolors='none', zorder=2)
fx = np.array([0, 6])
axc.plot(fx, fit_intercept + fit_slope * fx, color=BLACK, lw=4.5, zorder=3, solid_capstyle='butt')
axc.set_xlim(0, 6)
axc.set_ylim(1, 4)
axc.set_xticks(range(0, 7))
axc.set_yticks([1, 2, 3, 4])
axc.tick_params(direction='in', length=9, width=1, labelsize=29, top=True, right=True)
axc.tick_params(axis='x', pad=10)
axc.tick_params(axis='y', pad=13)
for sp in axc.spines.values():
    sp.set_linewidth(2.3)
    sp.set_color('black')
axc.set_xlabel('Dune elevation (m)', fontsize=29)
axc.xaxis.set_label_coords(0.518, -0.094)
axc.text(-0.0445, 0.508, 'λ (m)', transform=axc.transAxes, rotation=90, ha='center', va='center',
         fontsize=27, family=['Liberation Serif', 'DejaVu Serif'])
axc.text(0.036, 0.943, 'c', transform=axc.transAxes, ha='center', va='center', fontsize=29)
axc.text(0.708, 0.919, 'y= %.4f*x +%.3f' % (fit_slope, fit_intercept), transform=axc.transAxes,
         ha='left', va='center', fontsize=29, fontweight='bold')
axc.text(0.708, 0.845, 'RMSE=%.3f' % fit_rmse, transform=axc.transAxes,
         ha='left', va='center', fontsize=29, fontweight='bold')

fig.savefig('out.png', dpi=100)
